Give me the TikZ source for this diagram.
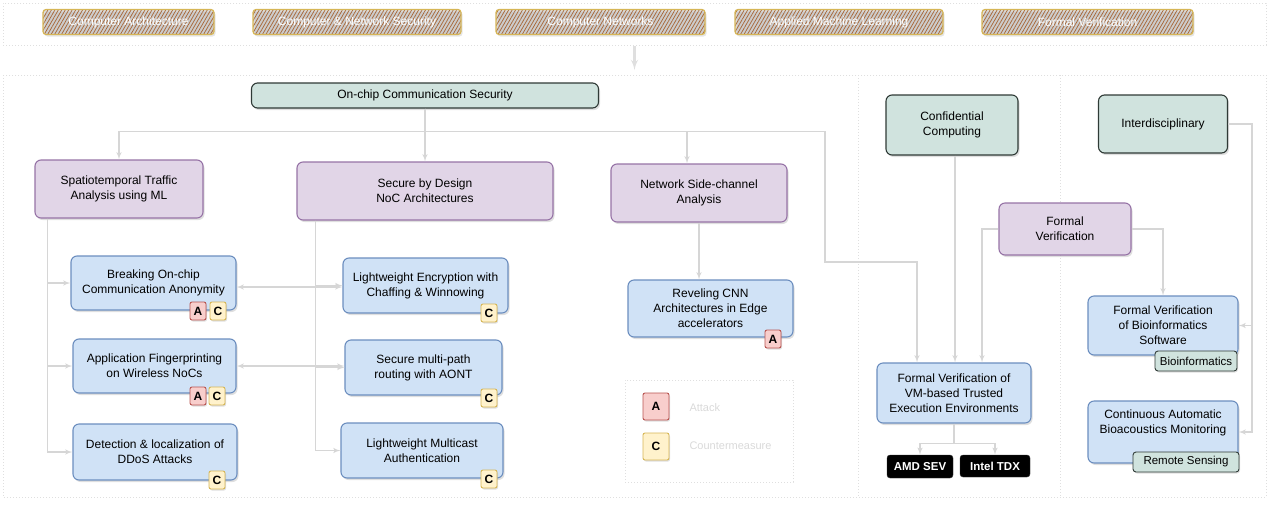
\documentclass[tikz,border=0pt]{standalone}
\usepackage{fontspec}
\setmainfont{Liberation Sans}
\usetikzlibrary{arrows,calc,shadows,patterns.meta}

\definecolor{purplefill}{HTML}{E1D5E7}
\definecolor{purpleline}{HTML}{9673A6}
\definecolor{bluefill}{HTML}{D0E2F6}
\definecolor{blueline}{HTML}{6C8EBF}
\definecolor{greenfill}{HTML}{D0E3DE}
\definecolor{greenline}{HTML}{2F3A36}
\definecolor{redfill}{HTML}{F8CECC}
\definecolor{redline}{HTML}{B85450}
\definecolor{yellowfill}{HTML}{FFF2CC}
\definecolor{yellowline}{HTML}{D6B656}
\definecolor{hatchbrown}{HTML}{A8683A}
\definecolor{linkgray}{HTML}{D6D6D6}

\tikzset{
  box/.style={rounded corners=6pt, line width=1.1pt, align=center, inner sep=2pt,
    font=\fontsize{12}{15}\selectfont,
    drop shadow={shadow xshift=1.5pt, shadow yshift=-2pt, opacity=0.25}},
  topic/.style={box, fill=purplefill, draw=purpleline},
  work/.style={box, fill=bluefill, draw=blueline},
  area/.style={box, fill=greenfill, draw=greenline},
  badge/.style={rounded corners=2pt, line width=0.9pt, minimum width=16pt, minimum height=18pt,
    inner sep=0pt, font=\fontsize{12}{12}\bfseries\selectfont,
    drop shadow={shadow xshift=1pt, shadow yshift=-1.5pt, opacity=0.25}},
  badgeA/.style={badge, fill=redfill, draw=redline},
  badgeC/.style={badge, fill=yellowfill, draw=yellowline},
  platform/.style={rounded corners=3pt, fill=black, draw=black!80, text=white, inner sep=0pt,
    font=\fontsize{11.5}{11.5}\bfseries\selectfont},
  field/.style={rounded corners=3pt, fill=greenfill, draw=greenline, line width=0.9pt, inner sep=0pt,
    font=\fontsize{11.5}{11.5}\selectfont,
    drop shadow={shadow xshift=1pt, shadow yshift=-1.5pt, opacity=0.25}},
  tag/.style={rounded corners=3pt, draw=yellowline, line width=1.2pt, preaction={fill=gray!25},
    pattern={Lines[angle=60,distance=3pt,line width=0.75pt]}, pattern color=hatchbrown,
    text=white, inner sep=0pt, minimum height=25pt, font=\fontsize{12}{12}\selectfont,
    drop shadow={shadow xshift=1.5pt, shadow yshift=-2pt, opacity=0.2}},
  link/.style={draw=linkgray, line width=1.5pt, -latex'},
  twoway/.style={draw=linkgray, line width=1.5pt, latex'-latex'},
  frame/.style={draw=gray!25, line width=1pt, dotted},
  legendtext/.style={text=gray!30, font=\fontsize{11}{11}\selectfont, anchor=west}
}

\begin{document}
\begin{tikzpicture}[x=1pt,y=-1pt]
  \useasboundingbox (0,0) rectangle (1280,507);

  % research fields
  \node[frame, minimum width=1263pt, minimum height=42pt] (topband) at (634.5,24) {};
  \node[tag, minimum width=171pt] (ca) at (128.5,22) {Computer Architecture};
  \node[tag, minimum width=208pt] (cns) at (357,22) {Computer \& Network Security};
  \node[tag, minimum width=209pt] (cn) at (600.5,22) {Computer Networks};
  \node[tag, minimum width=208pt] (aml) at (839,22) {Applied Machine Learning};
  \node[tag, minimum width=211pt] (fvt) at (1087.5,22) {Formal Verification};
  \coordinate (bandtip) at (634.5,70);
  \draw[draw=gray!25, line width=2.5pt, -latex'] (topband.south) -- (bandtip);

  \draw[frame] (3,75) rectangle (1266,497);
  \draw[frame] (858,75) -- (858,497);
  \draw[frame] (1060,75) -- (1060,497);

  % on-chip communication security
  \node[area, minimum width=347pt, minimum height=25pt] (main) at (425,95.5) {On-chip Communication Security};
  \node[topic, minimum width=168pt, minimum height=58pt] (spatio) at (119,189) {Spatiotemporal Traffic\\Analysis using ML};
  \node[topic, minimum width=256pt, minimum height=58pt] (sbd) at (425,191) {Secure by Design\\NoC Architectures};
  \node[topic, minimum width=176pt, minimum height=58pt] (nsa) at (699,193) {Network Side-channel\\Analysis};

  \node[work, minimum width=165pt, minimum height=54pt] (brk) at (153.5,283) {Breaking On-chip\\Communication Anonymity};
  \node[work, minimum width=163pt, minimum height=54pt] (app) at (154.5,366) {Application Fingerprinting\\on Wireless NoCs};
  \node[work, minimum width=164pt, minimum height=56pt] (ddos) at (155,452) {Detection \& localization of\\DDoS Attacks};
  \node[work, minimum width=165pt, minimum height=55pt] (lwe) at (425.5,285.5) {Lightweight Encryption with\\Chaffing \& Winnowing};
  \node[work, minimum width=157pt, minimum height=55pt] (smp) at (423.5,367.5) {Secure multi-path\\routing with AONT};
  \node[work, minimum width=162pt, minimum height=55pt] (lma) at (422,450.5) {Lightweight Multicast\\Authentication};
  \node[work, minimum width=165pt, minimum height=57pt] (cnn) at (710.5,308.5) {Reveling CNN\\Architectures in Edge\\accelerators};

  \node[badgeA] (brkA) at (198,311) {A};
  \node[badgeC] (brkC) at (218,311) {C};
  \node[badgeA] (appA) at (198,396) {A};
  \node[badgeC] (appC) at (217,396) {C};
  \node[badgeC] (ddosC) at (217,480) {C};
  \node[badgeC] (lweC) at (489,313) {C};
  \node[badgeC] (smpC) at (489,398) {C};
  \node[badgeC] (lmaC) at (489,479) {C};
  \node[badgeA] (cnnA) at (773,339) {A};

  % legend
  \node[frame, minimum width=168pt, minimum height=102pt] (legend) at (709,431) {};
  \node[badgeA, minimum width=26pt, minimum height=27pt] (legA) at (656,406.5) {A};
  \node[badgeC, minimum width=26pt, minimum height=27pt] (legC) at (656,446.5) {C};
  \node[legendtext] (legAtext) at (686,408) {Attack};
  \node[legendtext] (legCtext) at (686,446) {Countermeasure};

  % confidential computing
  \node[area, minimum width=132pt, minimum height=60pt] (conf) at (952,125) {Confidential\\Computing};
  \node[topic, minimum width=132pt, minimum height=52pt] (fv) at (1065,229) {Formal\\Verification};
  \node[work, minimum width=154pt, minimum height=60pt] (vm) at (954,393) {Formal Verification of\\VM-based Trusted\\Execution Environments};
  \node[platform, minimum width=66pt, minimum height=23pt] (amd) at (920,466.5) {AMD SEV};
  \node[platform, minimum width=70pt, minimum height=22pt] (tdx) at (995,466) {Intel TDX};

  % interdisciplinary
  \node[area, minimum width=129pt, minimum height=58pt] (inter) at (1163,124) {Interdisciplinary};
  \node[work, minimum width=150pt, minimum height=59pt] (bio) at (1163,325.5) {Formal Verification\\of Bioinformatics\\Software};
  \node[work, minimum width=150pt, minimum height=62pt] (aco) at (1163,432) {Continuous Automatic\\Bioacoustics Monitoring\\[6pt]};
  \node[field, minimum width=82pt, minimum height=20pt] (biotag) at (1196,361) {Bioinformatics};
  \node[field, minimum width=106pt, minimum height=20pt] (acotag) at (1186,462) {Remote Sensing};

  % connectors
  \draw[link] (main.south) -- ++(0,23) -| (spatio.north);
  \draw[link] (main.south) -- (main.south |- sbd.north);
  \draw[link] (main.south) -- ++(0,23) -| ([xshift=-12pt]nsa.north);
  \coordinate (vmbend) at (825,262);
  \draw[link] (main.south) -- ++(0,23) -| (vmbend) -| ([xshift=-37pt]vm.north);

  \draw[link] ([xshift=13pt]spatio.south west) |- (brk.west);
  \draw[link] ([xshift=13pt]spatio.south west) |- (app.west);
  \draw[link] ([xshift=13pt]spatio.south west) |- (ddos.west);
  \draw[link] ([xshift=19pt]sbd.south west) |- (lwe.west);
  \draw[link] ([xshift=19pt]sbd.south west) |- (smp.west);
  \draw[link] ([xshift=19pt]sbd.south west) |- (lma.west);
  \draw[twoway] ([yshift=-4pt]brk.east) -- ([yshift=-4pt]brk.east -| lwe.west);
  \draw[twoway] (app.east) -- (app.east -| smp.west);
  \draw[link] (nsa.south) -- (nsa.south |- cnn.north);

  \draw[link] ([xshift=3pt]conf.south) -- ([xshift=3pt]conf.south |- vm.north);
  \draw[link] (fv.west) -| ([xshift=28pt]vm.north);
  \draw[link] (fv.east) -| (bio.north);
  \draw[link] (vm.south) -- ++(0,20) -| (amd.north);
  \draw[link] (vm.south) -- ++(0,20) -| (tdx.north);
  \draw[link] (inter.east) -- ++(24,0) |- (bio.east);
  \draw[link] (inter.east) -- ++(24,0) |- (aco.east);
\end{tikzpicture}
\end{document}
